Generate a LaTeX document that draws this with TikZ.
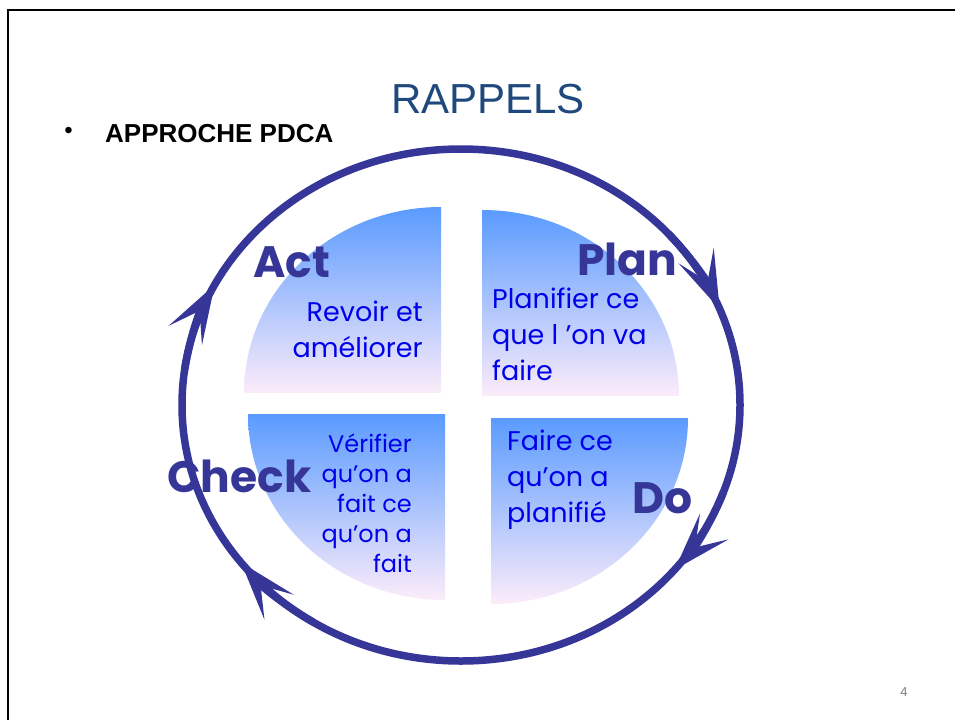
\documentclass[tikz,border=0pt]{standalone}
\usepackage{fontspec}
\setmainfont{Liberation Sans}
\newfontfamily\comic{Poppins}
\usetikzlibrary{arrows.meta,positioning}

\definecolor{ringblue}{RGB}{54,54,153}
\definecolor{titleblue}{RGB}{31,73,125}
\definecolor{notetext}{RGB}{0,0,235}
\definecolor{quartertop}{RGB}{90,155,255}
\definecolor{quartermid}{RGB}{135,195,252}
\definecolor{quarterbot}{RGB}{252,236,250}

\begin{document}
\begin{tikzpicture}[x=1pt,y=-1pt]
	\def\ringrx{279}
	\def\ringry{256}
	
	\tikzstyle{ring}=[draw=ringblue, line width=7.5pt]
	\tikzstyle{ring tip}=[ring, -{Stealth[length=58pt,width=38pt,inset=28pt]}]
	\tikzstyle{quarter}=[top color=quartertop, middle color=quartermid, bottom color=quarterbot]
	\tikzstyle{phase}=[font=\comic\bfseries\fontsize{44}{44}\selectfont, text=ringblue, inner sep=0pt, anchor=base west]
	\tikzstyle{note}=[font=\comic\fontsize{27}{36}\selectfont, text=notetext, inner sep=0pt]
	
	\useasboundingbox (0,0) rectangle (955,720);
	
	% Draw the slide frame
	\draw[line width=2.5pt] (8,720) -- (8,10) -- (955,10);
	
	% Title and bullet line
	\node[font=\fontsize{42}{42}\selectfont, text=titleblue, anchor=base, inner sep=0pt] (title) at (488,113) {RAPPELS};
	\node[font=\bfseries\fontsize{26}{26}\selectfont, anchor=base west, inner sep=0pt] (approche) at (105,142) {APPROCHE PDCA};
	\node[font=\fontsize{24}{24}\selectfont, inner sep=0pt, left=32pt of approche] (bullet) {•};
	
	% Draw the four quarters
	\foreach \cx / \cy / \angA / \angB in {441/393/180/270, 482/396/270/360, 445/414/180/90, 491/418/90/0}
	\path[quarter] (\cx,\cy) -- ++(\angA:197 and 186)
		arc[start angle=\angA, end angle=\angB, x radius=197, y radius=186] -- cycle;
	
	% Draw the ring and its arrow heads
	\coordinate (centre) at (461,405);
	\draw[ring] (centre) ellipse [x radius=\ringrx, y radius=\ringry];
	\foreach \tip in {-22,40,142,208}
	\draw[ring tip] (centre) ++(\tip-20:{\ringrx} and {\ringry})
		arc[start angle=\tip-20, end angle=\tip, x radius=\ringrx, y radius=\ringry];
	
	% Texts in the quarters (base = last line)
	\node[note, align=right, anchor=base east] (act text) at (423,357) {Revoir et\\améliorer};
	\node[note, align=left, anchor=base west] (plan text) at (492,380) {Planifier ce\\que l ’on va\\faire};
	\node[note, font=\comic\fontsize{24}{30}\selectfont, align=right, anchor=base east] (check text) at (412,572) {Vérifier\\qu’on a\\fait ce\\qu’on a\\fait};
	\node[note, align=left, anchor=base west] (do text) at (507,522) {Faire ce\\qu’on a\\planifié};
	
	% Annotate the phases
	\node[phase] (act) at (253,277) {Act};
	\node[phase] (plan) at (577,275) {Plan};
	\node[phase] (check) at (167,492) {Check};
	\node[phase] (do) at (632,513) {Do};
	
	% Page number
	\node[font=\fontsize{13}{13}\selectfont, text=black!50, anchor=base, inner sep=0pt] (page) at (904,696) {4};
\end{tikzpicture}
\end{document}
